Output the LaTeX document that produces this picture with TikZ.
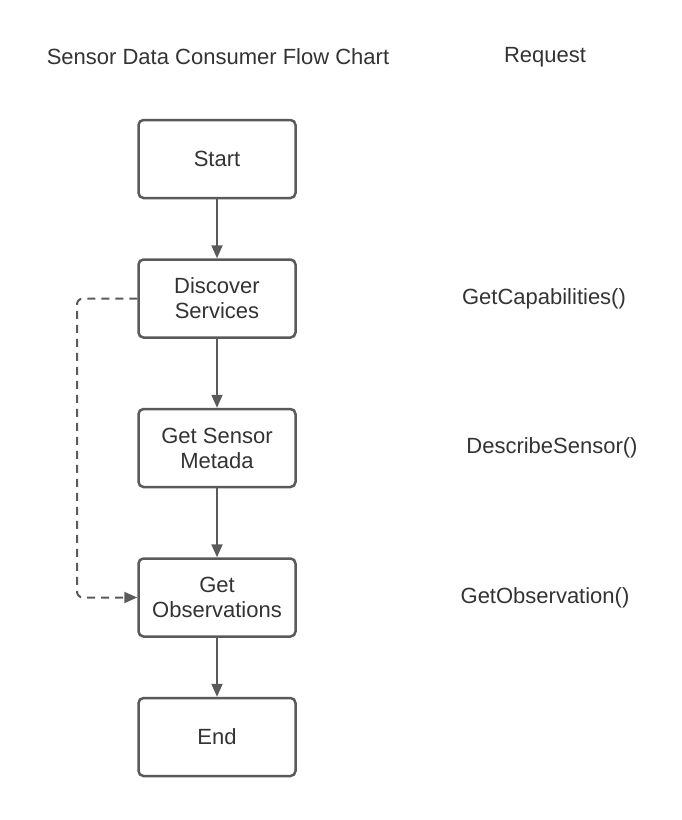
\documentclass[tikz,border=0pt]{standalone}
\usepackage{fontspec}
\setmainfont{Liberation Sans}
\usetikzlibrary{arrows.meta,positioning}
\definecolor{flowEdge}{HTML}{5A5A5A}
\definecolor{flowText}{HTML}{333333}

\begin{document}
\begin{tikzpicture}[
        x=1pt, y=-1pt,
        every node/.style={font=\fontsize{22}{25}\selectfont, text=flowText},
        stepbox/.style={draw=flowEdge, line width=2.5pt, rounded corners=5pt, fill=white, minimum width=157pt, minimum height=78pt, align=center},
        ar/.style={-{Triangle[length=13pt,width=11pt]}, line width=2pt, flowEdge},
        dar/.style={ar, dash pattern=on 8pt off 6pt, rounded corners=6pt}
    ]
        \useasboundingbox (0,0) rectangle (682,820);
        \node (title) at (218,57) {Sensor Data Consumer Flow Chart};
        \node (req) at (545,57) {Request};

        \node[stepbox] (start) at (217,159) {Start};
        \node[stepbox, below=59pt of start] (disc) {Discover\\Services};
        \node[stepbox, below=69pt of disc] (meta) {Get Sensor\\Metada};
        \node[stepbox, below=69pt of meta] (obs) {Get\\Observations};
        \node[stepbox, below=59pt of obs] (end) {End};

        \node (gc) at (disc -| 544,0) {GetCapabilities()};
        \node (ds) at (meta -| 552,0) {DescribeSensor()};
        \node (go) at (obs -| 545,0) {GetObservation()};

        \draw[ar] (start) -- (disc);
        \draw[ar] (disc) -- (meta);
        \draw[ar] (meta) -- (obs);
        \draw[ar] (obs) -- (end);
        \draw[dar] (disc.west) -- (77,0 |- disc.west) -- (77,0 |- obs.west) -- (obs.west);
    \end{tikzpicture}
\end{document}
